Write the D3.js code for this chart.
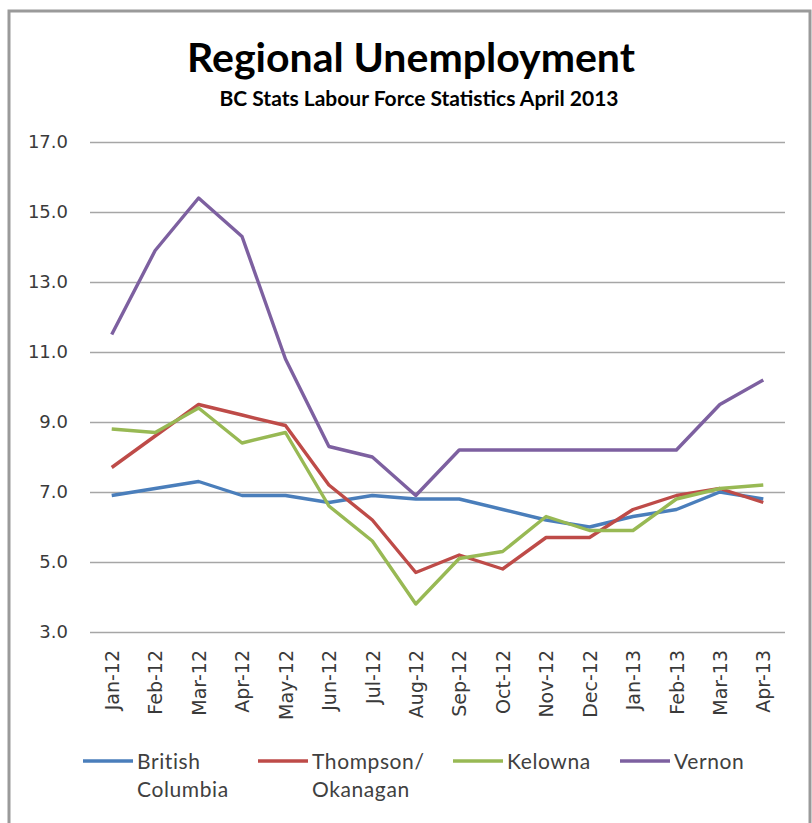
<!DOCTYPE html>
<html>
<head>
<meta charset="utf-8">
<script src="https://cdn.jsdelivr.net/npm/d3@7"></script>
<style>
  body { margin: 0; background: #fff; }
  svg { display: block; }
</style>
</head>
<body>
<script>
// months on the x axis
const months = ['Jan-12','Feb-12','Mar-12','Apr-12','May-12','Jun-12','Jul-12','Aug-12',
  'Sep-12','Oct-12','Nov-12','Dec-12','Jan-13','Feb-13','Mar-13','Apr-13'];

const bcValues       = [6.9,7.1,7.3,6.9,6.9,6.7,6.9,6.8,6.8,6.5,6.2,6.0,6.3,6.5,7.0,6.8];
const thompsonValues = [7.7,8.6,9.5,9.2,8.9,7.2,6.2,4.7,5.2,4.8,5.7,5.7,6.5,6.9,7.1,6.7];
const kelownaValues  = [8.8,8.7,9.4,8.4,8.7,6.6,5.6,3.8,5.1,5.3,6.3,5.9,5.9,6.8,7.1,7.2];
const vernonValues   = [11.5,13.9,15.4,14.3,10.8,8.3,8.0,6.9,8.2,8.2,8.2,8.2,8.2,8.2,9.5,10.2];

const yTicks = [3,5,7,9,11,13,15,17];

const seriesNames = [['British','Columbia'],['Thompson/','Okanagan'],['Kelowna'],['Vernon']];
const seriesColors = ['#4a7ebb','#be4b48','#98b954','#7d60a0'];
const allSeries = [bcValues, thompsonValues, kelownaValues, vernonValues];

const W = 812, H = 823;
const svg = d3.select('body').append('svg').attr('width', W).attr('height', H);

// frame
svg.append('rect')
  .attr('x', 9).attr('y', 11).attr('width', 801).attr('height', 830)
  .attr('fill', '#fff').attr('stroke', '#9a9a9a').attr('stroke-width', 3);

// titles
svg.append('text')
  .attr('x', 411).attr('y', 72)
  .attr('text-anchor', 'middle')
  .style('font-family', 'Lato, sans-serif').style('font-weight', 'bold')
  .style('font-size', '41px').attr('fill', '#000')
  .text('Regional Unemployment');

svg.append('text')
  .attr('x', 419).attr('y', 106)
  .attr('text-anchor', 'middle')
  .style('font-family', 'Lato, sans-serif').style('font-weight', 'bold')
  .style('font-size', '21px').attr('fill', '#000')
  .text('BC Stats Labour Force Statistics April 2013');

const pLeft = 90, pRight = 785, pTop = 142, pBottom = 632;

const x = d3.scalePoint().domain(months).range([pLeft, pRight]).padding(0.5);
const y = d3.scaleLinear().domain([3, 17]).range([pBottom, pTop]);

// y axis + gridlines
const yAxis = svg.append('g')
  .attr('transform', `translate(${pLeft},0)`)
  .call(d3.axisLeft(y).tickValues(yTicks).tickFormat(d3.format('.1f')).tickSize(-(pRight-pLeft)).tickPadding(22));
yAxis.select('.domain').remove();
yAxis.selectAll('.tick line').attr('stroke', '#a6a6a6').attr('stroke-width', 1.5);
yAxis.selectAll('.tick text')
  .style('font-family', '"DejaVu Sans", sans-serif').style('font-size', '18px').attr('fill', '#3a3a3a');

// x axis labels
const xAxis = svg.append('g')
  .attr('transform', `translate(0,${pBottom})`)
  .call(d3.axisBottom(x).tickSize(0));
xAxis.select('.domain').remove();
xAxis.selectAll('.tick text')
  .attr('transform', 'rotate(-90)')
  .attr('text-anchor', 'end')
  .attr('x', -18).attr('y', 0).attr('dy', '0.35em')
  .style('font-family', '"DejaVu Sans", sans-serif').style('font-size', '19px').attr('fill', '#3a3a3a');

// lines
const line = d3.line().x((d, i) => x(months[i])).y(d => y(d));
svg.append('g').selectAll('path')
  .data(allSeries)
  .enter()
  .append('path')
  .attr('d', d => line(d))
  .attr('fill', 'none')
  .attr('stroke', (d, i) => seriesColors[i])
  .attr('stroke-width', 3.4)
  .attr('stroke-linejoin', 'round');

// legend
const legendX = [83, 258, 453, 620];
const leg = svg.append('g').selectAll('g')
  .data(seriesNames)
  .enter()
  .append('g')
  .attr('transform', (d, i) => `translate(${legendX[i]},761)`);
leg.append('line')
  .attr('x1', 0).attr('x2', 50).attr('y1', 0).attr('y2', 0)
  .attr('stroke', (d, i) => seriesColors[i]).attr('stroke-width', 3.4);
leg.each(function(d) {
  const t = d3.select(this).append('text')
    .attr('x', 54).attr('y', 8)
    .style('font-family', 'Lato, sans-serif').style('font-size', '21px')
    .style('letter-spacing', '0.6px').attr('fill', '#404040');
  d.forEach((s, k) => {
    t.append('tspan').attr('x', 54).attr('dy', k === 0 ? 0 : 28).text(s);
  });
});
</script>
</body>
</html>
